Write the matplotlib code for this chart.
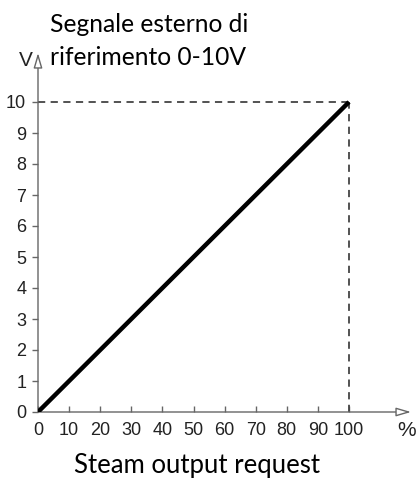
import matplotlib.pyplot as plt

# chart data
request_pct = [0, 100]
signal_v = [0, 10]
x_ticks = [0, 10, 20, 30, 40, 50, 60, 70, 80, 90, 100]
y_ticks = [0, 1, 2, 3, 4, 5, 6, 7, 8, 9, 10]

W, H = 419, 478
fig = plt.figure(figsize=(W / 100, H / 100), dpi=100)

# pixel geometry of the plotting area
x0, x100 = 38, 349
y0, y10 = 412, 102
px_x = (x100 - x0) / 100.0
px_y = (y0 - y10) / 10.0
right_px, top_px = 411, 53
xmax = (right_px - x0) / px_x
ymax = (y0 - top_px) / px_y

ax = fig.add_axes([x0 / W, (H - y0) / H, (right_px - x0) / W, (y0 - top_px) / H])
ax.set_xlim(0, xmax)
ax.set_ylim(0, ymax)
for s in ax.spines.values():
    s.set_visible(False)

gray = '#666666'
# axes with open arrow heads
arrow = dict(arrowstyle='-|>,head_length=0.75,head_width=0.22', color=gray, lw=1.0,
             fc='white', mutation_scale=12, shrinkA=0, shrinkB=0)
ax.annotate('', xy=(xmax, 0), xytext=(0, 0), arrowprops=arrow, annotation_clip=False)
ax.annotate('', xy=(0, ymax), xytext=(0, 0), arrowprops=arrow, annotation_clip=False)

# dashed guides
ax.plot([0, request_pct[1]], [signal_v[1], signal_v[1]], ls=(0, (4, 3)), color='#444444', lw=1.3)
ax.plot([request_pct[1], request_pct[1]], [0, signal_v[1]], ls=(0, (4, 3)), color='#444444', lw=1.3)

# main line
ax.plot(request_pct, signal_v, color='black', lw=3.2, solid_capstyle='butt', zorder=5)

ax.set_xticks(x_ticks)
ax.set_yticks(y_ticks)
ax.tick_params(axis='x', direction='in', length=4, width=1, color=gray,
               labelsize=13, labelcolor='#222222', pad=7)
ax.tick_params(axis='y', direction='out', length=4.5, width=1, color=gray,
               labelsize=13, labelcolor='#222222', pad=4)
for lab in ax.get_xticklabels() + ax.get_yticklabels():
    lab.set_fontfamily('Liberation Sans')

fig.text(407 / W, 1 - 431 / H, '%', fontsize=15, ha='center', va='center',
         family='Liberation Sans', color='#222222')
fig.text(26 / W, 1 - 60 / H, 'V', fontsize=15, ha='center', va='center',
         family='Liberation Sans', color='#222222')

fig.text(50 / W, 1 - 32 / H, 'Segnale esterno di', fontsize=17.7, ha='left', va='baseline',
         family='Lato', color='black')
fig.text(50 / W, 1 - 65 / H, 'riferimento 0-10V', fontsize=17.7, ha='left', va='baseline',
         family='Lato', color='black')
fig.text(197 / W, 1 - 473 / H, 'Steam output request', fontsize=18.5, ha='center', va='baseline',
         family='Lato', color='black')

fig.savefig('out.png', dpi=100)
